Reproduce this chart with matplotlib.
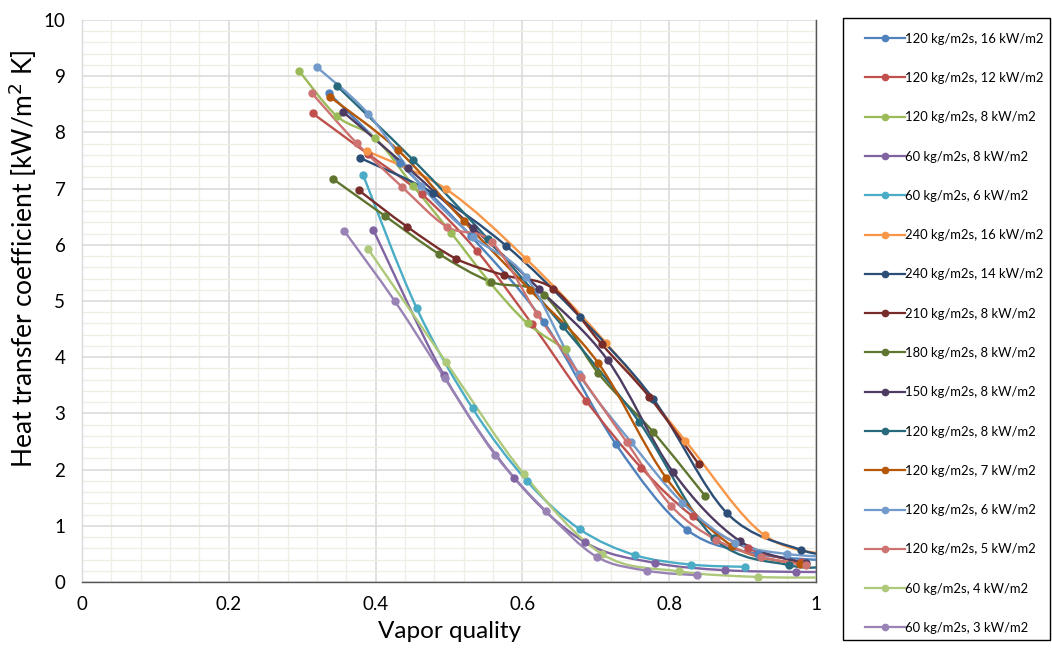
import matplotlib
matplotlib.use('Agg')
import matplotlib.pyplot as plt
from matplotlib.path import Path
from matplotlib.patches import PathPatch, Rectangle
from matplotlib.lines import Line2D
from matplotlib.ticker import MultipleLocator
import numpy as np

plt.rcParams['font.family'] = ['Lato', 'DejaVu Sans']

labels = ['120 kg/m2s, 16 kW/m2', '120 kg/m2s, 12 kW/m2', '120 kg/m2s, 8 kW/m2',
          '60 kg/m2s, 8 kW/m2', '60 kg/m2s, 6 kW/m2', '240 kg/m2s, 16 kW/m2',
          '240 kg/m2s, 14 kW/m2', '210 kg/m2s, 8 kW/m2', '180 kg/m2s, 8 kW/m2',
          '150 kg/m2s, 8 kW/m2', '120 kg/m2s, 8 kW/m2', '120 kg/m2s, 7 kW/m2',
          '120 kg/m2s, 6 kW/m2', '120 kg/m2s, 5 kW/m2', '60 kg/m2s, 4 kW/m2',
          '60 kg/m2s, 3 kW/m2']
colors = ['#4F81BD', '#C0504D', '#9BBB59', '#8064A2', '#4BACC6', '#F79646',
          '#2C4D75', '#772C2A', '#5F7530', '#4D3B62', '#276A7C', '#B65708',
          '#729ACA', '#CD7371', '#AFC97A', '#9983B5']

# vapor quality / heat transfer coefficient [kW/m2 K] per series
x_g120_q16 = [0.336, 0.433, 0.530, 0.629, 0.727, 0.824, 0.921, 1.018]
y_g120_q16 = [8.70, 7.45, 6.15, 4.63, 2.46, 0.93, 0.50, 0.38]
x_g120_q12 = [0.314, 0.389, 0.463, 0.538, 0.613, 0.687, 0.762, 0.832, 0.907, 0.980]
y_g120_q12 = [8.34, 7.62, 6.90, 5.89, 4.59, 3.22, 2.03, 1.17, 0.60, 0.35]
x_g120_q8a = [0.296, 0.347, 0.399, 0.451, 0.503, 0.555, 0.607, 0.659]
y_g120_q8a = [9.09, 8.29, 7.90, 7.05, 6.21, 5.34, 4.60, 4.14]
x_g60_q8 = [0.397, 0.493, 0.589, 0.685, 0.780, 0.876, 0.973, 1.02]
y_g60_q8 = [6.26, 3.68, 1.85, 0.71, 0.34, 0.21, 0.18, 0.18]
x_g60_q6 = [0.383, 0.456, 0.532, 0.606, 0.678, 0.753, 0.830, 0.903]
y_g60_q6 = [7.24, 4.87, 3.09, 1.80, 0.94, 0.48, 0.31, 0.27]
x_g240_q16 = [0.388, 0.496, 0.605, 0.714, 0.822, 0.930, 1.038]
y_g240_q16 = [7.67, 6.99, 5.75, 4.25, 2.51, 0.83, 0.45]
x_g240_q14 = [0.378, 0.478, 0.578, 0.678, 0.778, 0.879, 0.980, 1.03]
y_g240_q14 = [7.55, 6.92, 5.98, 4.72, 3.26, 1.22, 0.57, 0.50]
x_g210_q8 = [0.377, 0.443, 0.510, 0.575, 0.642, 0.708, 0.773, 0.840]
y_g210_q8 = [6.97, 6.32, 5.75, 5.46, 5.22, 4.23, 3.29, 2.10]
x_g180_q8 = [0.342, 0.413, 0.486, 0.557, 0.630, 0.703, 0.778, 0.849]
y_g180_q8 = [7.17, 6.51, 5.84, 5.34, 5.10, 3.72, 2.67, 1.53]
x_g150_q8 = [0.356, 0.444, 0.533, 0.623, 0.716, 0.805, 0.896, 0.986]
y_g150_q8 = [8.36, 7.37, 6.30, 5.21, 3.95, 1.96, 0.73, 0.33]
x_g120_q8b = [0.347, 0.451, 0.553, 0.655, 0.759, 0.861, 0.963, 1.02]
y_g120_q8b = [8.83, 7.51, 6.10, 4.55, 2.85, 0.78, 0.30, 0.27]
x_g120_q7 = [0.338, 0.430, 0.520, 0.610, 0.703, 0.796, 0.886, 0.978]
y_g120_q7 = [8.63, 7.69, 6.42, 5.20, 3.90, 1.85, 0.64, 0.32]
x_g120_q6 = [0.320, 0.390, 0.462, 0.533, 0.605, 0.677, 0.748, 0.818, 0.890, 0.960, 1.03]
y_g120_q6 = [9.16, 8.33, 7.05, 6.14, 5.43, 3.70, 2.49, 1.41, 0.70, 0.50, 0.44]
x_g120_q5 = [0.313, 0.374, 0.436, 0.497, 0.558, 0.620, 0.680, 0.742, 0.803, 0.864, 0.925, 0.986]
y_g120_q5 = [8.70, 7.81, 7.03, 6.32, 6.05, 4.77, 3.65, 2.49, 1.35, 0.75, 0.45, 0.30]
x_g60_q4 = [0.390, 0.496, 0.602, 0.708, 0.813, 0.921, 1.02]
y_g60_q4 = [5.92, 3.91, 1.92, 0.50, 0.19, 0.09, 0.08]
x_g60_q3 = [0.357, 0.426, 0.494, 0.563, 0.632, 0.701, 0.770, 0.838]
y_g60_q3 = [6.25, 5.00, 3.63, 2.26, 1.26, 0.45, 0.20, 0.12]

xs = [x_g120_q16, x_g120_q12, x_g120_q8a, x_g60_q8, x_g60_q6, x_g240_q16,
      x_g240_q14, x_g210_q8, x_g180_q8, x_g150_q8, x_g120_q8b, x_g120_q7,
      x_g120_q6, x_g120_q5, x_g60_q4, x_g60_q3]
ys = [y_g120_q16, y_g120_q12, y_g120_q8a, y_g60_q8, y_g60_q6, y_g240_q16,
      y_g240_q14, y_g210_q8, y_g180_q8, y_g150_q8, y_g120_q8b, y_g120_q7,
      y_g120_q6, y_g120_q5, y_g60_q4, y_g60_q3]


def smooth_path(x, y):
    # Excel-like smoothed line: Catmull-Rom segments as cubic Bezier curves
    p = np.column_stack([x, y])
    verts = [p[0]]
    codes = [Path.MOVETO]
    n = len(p)
    for i in range(n - 1):
        p0 = p[i - 1] if i > 0 else p[i]
        p3 = p[i + 2] if i + 2 < n else p[i + 1]
        c1 = p[i] + (p[i + 1] - p0) / 6.0
        c2 = p[i + 1] - (p3 - p[i]) / 6.0
        verts += [c1, c2, p[i + 1]]
        codes += [Path.CURVE4] * 3
    return Path(verts, codes)


fig = plt.figure(figsize=(10.52, 6.53), dpi=100)
ax = fig.add_axes([0.078, 0.1087, 0.6977, 0.8607])

handles = []
for x, y, c, lab in zip(xs, ys, colors, labels):
    ax.add_patch(PathPatch(smooth_path(x, y), facecolor='none', edgecolor=c, lw=1.7, zorder=3))
    ax.plot(x, y, 'o', color=c, ms=5, zorder=4)
    handles.append(Line2D([], [], color=c, lw=1.6, marker='o', ms=4.5, label=lab))

ax.set_xlim(0, 1)
ax.set_ylim(0, 10)
ax.xaxis.set_major_locator(MultipleLocator(0.2))
ax.xaxis.set_minor_locator(MultipleLocator(0.04))
ax.yaxis.set_major_locator(MultipleLocator(1))
ax.yaxis.set_minor_locator(MultipleLocator(0.2))
ax.grid(which='major', color='#D9D9D9', lw=1.1, zorder=0)
ax.grid(which='minor', color='#EEEEE4', lw=0.9, zorder=0)
ax.set_axisbelow(True)
ax.tick_params(which='both', length=0, labelsize=13.5)
ax.tick_params(axis='y', pad=12)
ax.tick_params(axis='x', pad=10)
ax.set_xticks([0, 0.2, 0.4, 0.6, 0.8, 1.0])
ax.set_xticklabels(['0', '0.2', '0.4', '0.6', '0.8', '1'])
for s in ax.spines.values():
    s.set_color('#555555')
    s.set_linewidth(1.0)
ax.spines['top'].set_visible(False)
ax.spines['left'].set_color('#D9D9D9')

ax.set_xlabel('Vapor quality', fontsize=17.5, labelpad=6)
ax.set_ylabel('Heat transfer coefficient [kW/m$^2$ K]', fontsize=19)
ax.yaxis.set_label_coords(-0.058, 0.575)

# legend frame drawn separately so the entries can sit inset like Excel
fig.patches.append(Rectangle((0.8013, 0.0199), 0.1968, 0.9525, transform=fig.transFigure,
                             facecolor='white', edgecolor='black', lw=1.0, zorder=0))
leg = fig.legend(handles=handles, loc='upper left', bbox_to_anchor=(0.8222, 0.950),
                 fontsize=9.4, labelspacing=2.09, handlelength=3.05, handletextpad=0.05,
                 borderpad=0, borderaxespad=0, frameon=False)

fig.savefig('out.png', dpi=100)
